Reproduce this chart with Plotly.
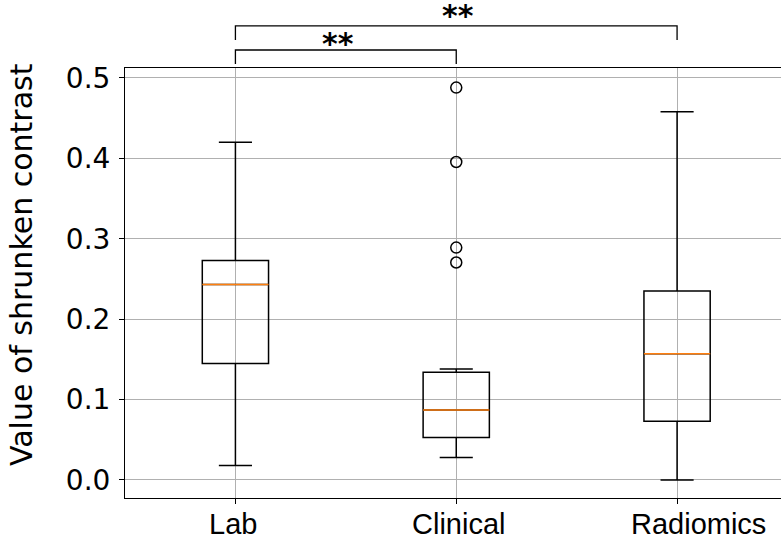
import plotly.graph_objects as go

# ---- data ----
categories = ["Lab", "Clinical", "Radiomics"]
positions = [1, 2, 3]
lower_whisker = [0.018, 0.028, 0.000]
q1 = [0.145, 0.053, 0.073]
median = [0.243, 0.087, 0.157]
q3 = [0.273, 0.134, 0.235]
upper_whisker = [0.420, 0.138, 0.458]
clinical_outliers = [0.488, 0.3955, 0.289, 0.2705]
y_ticks = [0.0, 0.1, 0.2, 0.3, 0.4, 0.5]

# significance brackets: (from index, to index, base height, label)
sig_pairs = [(0, 1), (0, 2)]
sig_base = [0.5174, 0.5473]
sig_labels = ["**", "**"]

# ---- layout constants ----
W, H = 781, 544
ML, MR, MT, MB = 125, 0, 68, 46
X0, X1 = 0.5, 3.5 - 6.5 / 221.0
Y0, Y1 = -0.0224, 0.5124
BOX_W = 0.3
TIP = 0.0174
LABEL_SHIFT = [-2, 2, 21]   # horizontal pixel offsets of category labels

def xp(v):
    return (v - X0) / (X1 - X0)

def yp(v):
    return (v - Y0) / (Y1 - Y0)

fig = go.Figure()

for i, pos in enumerate(positions):
    fig.add_trace(go.Box(
        x=[pos], q1=[q1[i]], median=[median[i]], q3=[q3[i]],
        lowerfence=[lower_whisker[i]], upperfence=[upper_whisker[i]],
        width=BOX_W, whiskerwidth=0.5,
        line=dict(color="black", width=1.5),
        fillcolor="rgba(0,0,0,0)", boxpoints=False,
        showlegend=False, hoverinfo="skip",
    ))
    fig.add_trace(go.Scatter(
        x=[pos - BOX_W / 2, pos + BOX_W / 2], y=[median[i], median[i]],
        mode="lines", line=dict(color="#ff7f0e", width=1.5),
        showlegend=False, hoverinfo="skip",
    ))

fig.add_trace(go.Scatter(
    x=[positions[1]] * len(clinical_outliers), y=clinical_outliers,
    mode="markers",
    marker=dict(symbol="circle-open", size=11, color="black", line=dict(width=1.5)),
    showlegend=False, hoverinfo="skip",
))

shapes = []
annotations = []
for k, ((a, b), base, lab) in enumerate(zip(sig_pairs, sig_base, sig_labels)):
    xa, xb = positions[a], positions[b]
    path = "M {:.5f} {:.5f} L {:.5f} {:.5f} L {:.5f} {:.5f} L {:.5f} {:.5f}".format(
        xp(xa), yp(base), xp(xa), yp(base + TIP), xp(xb), yp(base + TIP), xp(xb), yp(base))
    shapes.append(dict(type="path", path=path, xref="paper", yref="paper",
                       line=dict(color="black", width=1.3)))
    annotations.append(dict(
        x=xp((xa + xb) / 2), y=yp(base + TIP), xref="paper", yref="paper",
        text="<b>" + lab + "</b>", showarrow=False, xanchor="center", yanchor="bottom",
        font=dict(family="DejaVu Sans", size=30, color="black"),
        yshift=(-13 if k == 0 else -9), xshift=(-8 if k == 0 else 2),
    ))

# category labels
for pos, cat, sh in zip(positions, categories, LABEL_SHIFT):
    annotations.append(dict(
        x=pos, y=-(506 - (H - MB)) / (H - MT - MB), xref="x", yref="paper",
        text=cat, showarrow=False, xanchor="center", yanchor="top", xshift=sh,
        font=dict(family="Liberation Sans", size=29, color="black"),
    ))

annotations.append(dict(
    x=-(ML - 21) / (W - ML - MR), y=1 - (265 - MT) / (H - MT - MB),
    xref="paper", yref="paper", text="Value of shrunken contrast",
    textangle=-90, showarrow=False, xanchor="center", yanchor="middle",
    font=dict(family="DejaVu Sans", size=30, color="black"),
))

fig.update_layout(
    width=W, height=H,
    margin=dict(l=ML, r=MR, t=MT, b=MB, pad=0, autoexpand=False),
    plot_bgcolor="white", paper_bgcolor="white",
    shapes=shapes, annotations=annotations,
    xaxis=dict(
        range=[X0, X1], tickvals=positions, ticktext=categories,
        showticklabels=False,
        showgrid=True, gridcolor="#b0b0b0", gridwidth=1, zeroline=False,
        showline=True, linecolor="black", linewidth=1, mirror=True,
        ticks="outside", ticklen=5, tickwidth=1, tickcolor="black",
        automargin=False,
    ),
    yaxis=dict(
        range=[Y0, Y1], tickvals=y_ticks, tickformat=".1f",
        showgrid=True, gridcolor="#b0b0b0", gridwidth=1, zeroline=False,
        showline=True, linecolor="black", linewidth=1,
        ticks="outside", ticklen=5, tickwidth=1, tickcolor="black",
        tickfont=dict(family="DejaVu Sans", size=28, color="black"),
        ticklabelstandoff=3,
        automargin=False,
    ),
)

fig.write_html(
    "out.html",
    config={"displayModeBar": False},
    post_script="document.body.style.margin='0';document.body.style.padding='0';",
)
